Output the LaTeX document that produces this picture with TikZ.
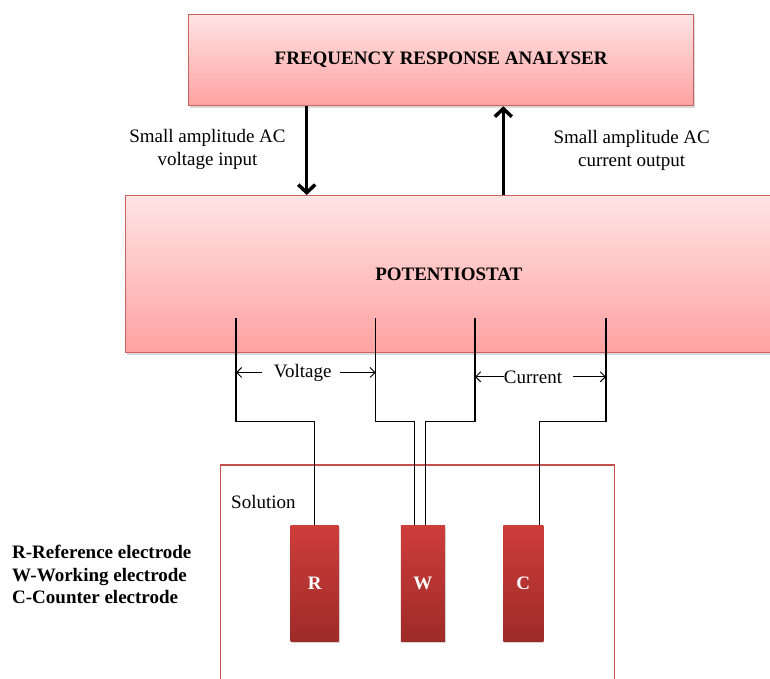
\documentclass[tikz,border=0pt]{standalone}
\usepackage{fontspec}
\setmainfont{Liberation Serif}
\usetikzlibrary{arrows.meta,shadows,positioning}

\definecolor{panelTop}{HTML}{FFE4E4}
\definecolor{panelBot}{HTML}{FFA1A1}
\definecolor{panelEdge}{HTML}{CC6262}
\definecolor{elecTop}{HTML}{CE3D3A}
\definecolor{elecBot}{HTML}{9E2B29}
\definecolor{vesselEdge}{HTML}{C4504D}

\begin{document}
\begin{tikzpicture}[
  x=1pt,y=-1pt,
  panel/.style={rectangle,draw=panelEdge,line width=1.3pt,top color=panelTop,bottom color=panelBot,
    inner sep=0pt,font=\bfseries\fontsize{19}{23}\selectfont,
    drop shadow={shadow xshift=1pt,shadow yshift=-2pt,opacity=0.3}},
  elec/.style={rectangle,draw=none,top color=elecTop,bottom color=elecBot,minimum height=116pt,
    inner sep=0pt,text=white,font=\bfseries\fontsize{19}{23}\selectfont,
    drop shadow={shadow xshift=1pt,shadow yshift=-1.5pt,opacity=0.35}},
  vessel/.style={rectangle,draw=vesselEdge,line width=1.5pt,minimum width=394pt,minimum height=260pt},
  lbl/.style={font=\fontsize{19}{23}\selectfont,inner sep=0pt,align=center},
  wire/.style={line width=1.1pt},
  bigarrow/.style={line width=3.5pt,-{Straight Barb[length=8pt,width=17pt]}},
  span/.style={line width=1pt,-{Straight Barb[length=5pt,width=10pt]}}
]
\useasboundingbox (0,0) rectangle (770,679);

% Instruments
\node[panel,minimum width=505pt,minimum height=91pt,anchor=north west] (fra) at (188,14)
  {FREQUENCY RESPONSE ANALYSER};
\node[panel,minimum width=650pt,minimum height=157pt,anchor=north west] (pot) at (125,195) {};
\node[font=\bfseries\fontsize{19}{23}\selectfont] (potname) at (448.8,274.5) {POTENTIOSTAT};

% AC signals between them
\coordinate (vin) at (306.7,0);
\coordinate (iout) at (503.3,0);
\draw[bigarrow] (fra.south -| vin) -- (pot.north -| vin);
\draw[bigarrow] (pot.north -| iout) -- (fra.south -| iout);
\node[lbl,anchor=north] (vinlbl) at (207.5,129) {Small amplitude AC\\voltage input};
\node[lbl,anchor=north] (ioutlbl) at (631.7,130.3) {Small amplitude AC\\current output};

% Cell
\node[vessel,anchor=north west] (sol) at (219.5,464) {};
\node[lbl,anchor=base west] (sollbl) at (231,508.3) {Solution};
\node[elec,minimum width=48pt] (elecR) at (314.7,583) {R};
\node[elec,minimum width=44pt] (elecW) at (422.9,583) {W};
\node[elec,minimum width=40pt] (elecC) at (523.3,583) {C};
\coordinate (inR) at (elecR.north);
\coordinate (inW1) at ([xshift=-8pt]elecW.north);
\coordinate (inW2) at ([xshift=3pt]elecW.north);
\coordinate (inC) at ([xshift=16pt]elecC.north);

% Leads
\coordinate (tap1) at (236,318);
\coordinate (tap2) at (375.7,318);
\coordinate (tap3) at (475,318);
\coordinate (tap4) at (606,318);
\coordinate (jog) at (0,421.7);
\draw[wire] (tap1) |- (jog -| inR) -- (inR);
\draw[wire] (tap2) |- (jog -| inW1) -- (inW1);
\draw[wire] (tap3) |- (jog -| inW2) -- (inW2);
\draw[wire] (tap4) |- (jog -| inC) -- (inC);

% Measured quantities
\node[lbl,anchor=base] (volt) at (302.7,377) {Voltage};
\node[lbl,anchor=base] (curr) at (533,383) {Current};
\draw[span] ([xshift=-12pt]volt.west) -- (tap1 |- volt.west);
\draw[span] ([xshift=8pt]volt.east) -- (tap2 |- volt.east);
\draw[span] (curr.west) -- (tap3 |- curr.west);
\draw[span] ([xshift=11pt]curr.east) -- (tap4 |- curr.east);

% Key
\node[lbl,align=left,anchor=north west,font=\bfseries\fontsize{19}{22.7}\selectfont] (legend) at (12,544.8)
  {R-Reference electrode\\W-Working electrode\\C-Counter electrode};
\end{tikzpicture}
\end{document}
